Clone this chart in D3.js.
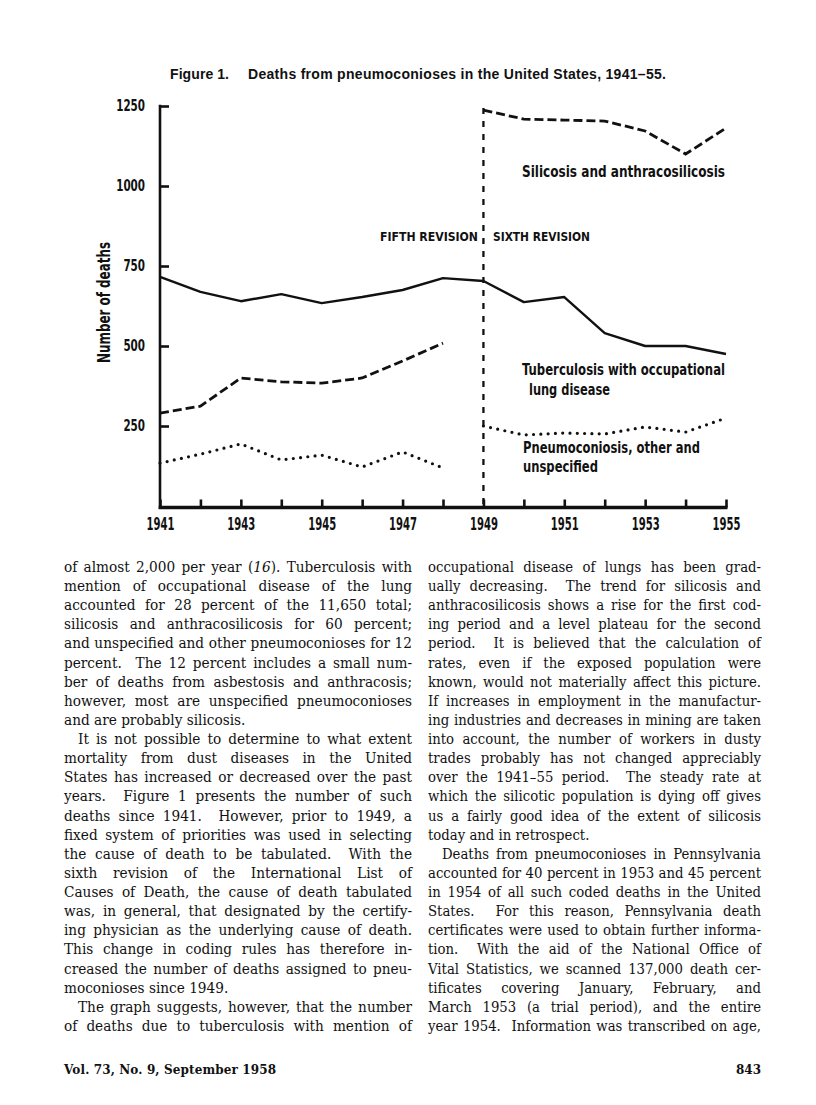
<!DOCTYPE html>
<html><head><meta charset="utf-8">
<script src="https://cdn.jsdelivr.net/npm/d3@7"></script>
<style>body{margin:0;background:#fff}svg{display:block}</style>
</head><body><svg id="c" width="816" height="1105"></svg>
<script>
// ---------- DATA ----------
const years = [1941,1942,1943,1944,1945,1946,1947,1948,1949,1950,1951,1952,1953,1954,1955];
const tuberculosis = [716,669,640,662,634,653,675,712,703,637,653,540,500,500,475];
const yearsFifth = [1941,1942,1943,1944,1945,1946,1947,1948];
const yearsSixth = [1949,1950,1951,1952,1953,1954,1955];
const silicosisFifth = [290,312,400,388,384,400,453,509];
const silicosisSixth = [1237,1209,1206,1203,1172,1100,1181];
const otherFifth = [134,162,194,144,159,122,169,119];
const otherSixth = [250,222,228,225,247,231,275];
const yTicks = [250,500,750,1000,1250];
const xLabelYears = [1941,1943,1945,1947,1949,1951,1953,1955];
const revisionYear = 1949;

const titleA = "Figure 1.";
const titleB = "Deaths from pneumoconioses in the United States, 1941\u201355.";
const yTitle = "Number of deaths";
const labelFifth = "FIFTH REVISION";
const labelSixth = "SIXTH REVISION";
const labelSil = ["Silicosis and anthracosilicosis"];
const labelTb = ["Tuberculosis with occupational","lung disease"];
const labelOther = ["Pneumoconiosis, other and","unspecified"];

// body text: [text, justified?, indent?]
const leftColumn = [
 ["of almost 2,000 per year ({16}). Tuberculosis with",1,0],
 ["mention of occupational disease of the lung",1,0],
 ["accounted for 28 percent of the 11,650 total;",1,0],
 ["silicosis and anthracosilicosis for 60 percent;",1,0],
 ["and unspecified and other pneumoconioses for 12",1,0],
 ["percent.  The 12 percent includes a small num-",1,0],
 ["ber of deaths from asbestosis and anthracosis;",1,0],
 ["however, most are unspecified pneumoconioses",1,0],
 ["and are probably silicosis.",0,0],
 ["It is not possible to determine to what extent",1,1],
 ["mortality from dust diseases in the United",1,0],
 ["States has increased or decreased over the past",1,0],
 ["years.  Figure 1 presents the number of such",1,0],
 ["deaths since 1941.  However, prior to 1949, a",1,0],
 ["fixed system of priorities was used in selecting",1,0],
 ["the cause of death to be tabulated.  With the",1,0],
 ["sixth revision of the International List of",1,0],
 ["Causes of Death, the cause of death tabulated",1,0],
 ["was, in general, that designated by the certify-",1,0],
 ["ing physician as the underlying cause of death.",1,0],
 ["This change in coding rules has therefore in-",1,0],
 ["creased the number of deaths assigned to pneu-",1,0],
 ["moconioses since 1949.",0,0],
 ["The graph suggests, however, that the number",1,1],
 ["of deaths due to tuberculosis with mention of",1,0]
];
const rightColumn = [
 ["occupational disease of lungs has been grad-",1,0],
 ["ually decreasing.  The trend for silicosis and",1,0],
 ["anthracosilicosis shows a rise for the first cod-",1,0],
 ["ing period and a level plateau for the second",1,0],
 ["period.  It is believed that the calculation of",1,0],
 ["rates, even if the exposed population were",1,0],
 ["known, would not materially affect this picture.",1,0],
 ["If increases in employment in the manufactur-",1,0],
 ["ing industries and decreases in mining are taken",1,0],
 ["into account, the number of workers in dusty",1,0],
 ["trades probably has not changed appreciably",1,0],
 ["over the 1941\u201355 period.  The steady rate at",1,0],
 ["which the silicotic population is dying off gives",1,0],
 ["us a fairly good idea of the extent of silicosis",1,0],
 ["today and in retrospect.",0,0],
 ["Deaths from pneumoconioses in Pennsylvania",1,1],
 ["accounted for 40 percent in 1953 and 45 percent",1,0],
 ["in 1954 of all such coded deaths in the United",1,0],
 ["States.  For this reason, Pennsylvania death",1,0],
 ["certificates were used to obtain further informa-",1,0],
 ["tion.  With the aid of the National Office of",1,0],
 ["Vital Statistics, we scanned 137,000 death cer-",1,0],
 ["tificates covering January, February, and",1,0],
 ["March 1953 (a trial period), and the entire",1,0],
 ["year 1954.  Information was transcribed on age,",1,0]
];
const footerLeft = "Vol. 73, No. 9, September 1958";
const footerRight = "843";

// ---------- DRAW ----------
const ink = "#111";
const cond = "'Liberation Sans Narrow','DejaVu Sans Condensed','Roboto Condensed','Arial Narrow',sans-serif";
const svg = d3.select("#c");
svg.append("rect").attr("width",816).attr("height",1105).attr("fill","#fff");

const x = d3.scaleLinear().domain([1941,1955]).range([160,726]);
const y = d3.scaleLinear().domain([0,1250]).range([506,106]);

function fit(sel, w){
  const n = sel.node().getComputedTextLength();
  sel.attr("textLength", w).attr("lengthAdjust", n > w ? "spacingAndGlyphs" : "spacing");
  return sel;
}
function label(txt, px, py, fs, w, anchor){
  const t = svg.append("text").attr("x",px).attr("y",py)
    .attr("font-family",cond).attr("font-weight","bold").attr("font-size",fs)
    .attr("fill",ink).attr("text-anchor",anchor||"start").text(txt);
  fit(t,w);
  return t;
}

// title
const tA = svg.append("text").attr("x",170).attr("y",79)
  .attr("font-family","'Liberation Sans',Arial,sans-serif").attr("font-weight","bold")
  .attr("font-size",14).attr("fill",ink).text(titleA);
fit(tA,59);
const tB = svg.append("text").attr("x",248).attr("y",79)
  .attr("font-family","'Liberation Sans',Arial,sans-serif").attr("font-weight","bold")
  .attr("font-size",14).attr("fill",ink).text(titleB);
fit(tB,418);

// axes
const gy = svg.append("g").attr("transform",`translate(${x(1941)},0)`)
  .call(d3.axisLeft(y).tickValues(yTicks).tickFormat(d3.format("d"))
    .tickSizeInner(-9).tickSizeOuter(0).tickPadding(15));
gy.select(".domain").remove();
gy.selectAll(".tick line").attr("stroke",ink).attr("stroke-width",2.6);
gy.selectAll(".tick text").attr("font-family",cond).attr("font-weight","bold")
  .attr("font-size",15).attr("fill",ink)
  .each(function(d){ fit(d3.select(this), String(d).length*7.2); });

const gx = svg.append("g").attr("transform",`translate(0,${y(0)+1.5})`)
  .call(d3.axisBottom(x).tickValues(years).tickSizeInner(-8).tickSizeOuter(0)
    .tickFormat(d => xLabelYears.includes(d) ? String(d) : ""));
gx.select(".domain").remove();
gx.selectAll(".tick line").attr("stroke",ink).attr("stroke-width",2.6);
gx.selectAll(".tick text").attr("font-family",cond).attr("font-weight","bold")
  .attr("font-size",17).attr("fill",ink).attr("dy",null).attr("y",22)
  .each(function(d){ if (xLabelYears.includes(d)) fit(d3.select(this), 28); });

// axis lines
svg.append("line").attr("x1",x(1941)).attr("x2",x(1941)).attr("y1",y(1250)-1.3).attr("y2",y(0)+3)
  .attr("stroke",ink).attr("stroke-width",2.6);
svg.append("line").attr("x1",x(1941)-1.3).attr("x2",x(1955)+1.5).attr("y1",y(0)+1.5).attr("y2",y(0)+1.5)
  .attr("stroke",ink).attr("stroke-width",3.4);

// y title
svg.append("text").attr("transform",`translate(110,302.5) rotate(-90)`)
  .attr("font-family",cond).attr("font-weight","bold").attr("font-size",17)
  .attr("fill",ink).attr("text-anchor","middle").text(yTitle)
  .call(s => fit(s,121));

// revision divider
svg.append("line").attr("x1",x(revisionYear)).attr("x2",x(revisionYear))
  .attr("y1",y(1250)+2).attr("y2",y(0))
  .attr("stroke",ink).attr("stroke-width",2.3).attr("stroke-dasharray","6,7");

// series
const line = d3.line().x(d=>x(d[0])).y(d=>y(d[1]));
const zip = (a,b) => a.map((v,i)=>[v,b[i]]);
svg.append("path").attr("d",line(zip(years,tuberculosis)))
  .attr("fill","none").attr("stroke",ink).attr("stroke-width",2.4).attr("stroke-linejoin","round");
[[yearsFifth,silicosisFifth],[yearsSixth,silicosisSixth]].forEach(([a,b])=>{
  svg.append("path").attr("d",line(zip(a,b)))
    .attr("fill","none").attr("stroke",ink).attr("stroke-width",2.8).attr("stroke-dasharray","9,4");
});
[[yearsFifth,otherFifth],[yearsSixth,otherSixth]].forEach(([a,b])=>{
  svg.append("path").attr("d",line(zip(a,b)))
    .attr("fill","none").attr("stroke",ink).attr("stroke-width",3.2)
    .attr("stroke-linecap","round").attr("stroke-dasharray","0,7.3");
});

// annotations
label(labelFifth, 478, 241, 12.5, 98, "end");
label(labelSixth, 493, 241, 12.5, 97);
label(labelSil[0], 522, 177, 16.5, 203);
label(labelTb[0], 522, 375, 16, 203);
label(labelTb[1], 529, 395, 16, 81);
label(labelOther[0], 523, 453, 16, 177);
label(labelOther[1], 523, 472, 16, 75);

// body text columns
const bodyFont = "'DejaVu Serif','Liberation Serif',serif";
function column(lines, x0, width){
  const g = svg.append("g");
  const texts = lines.map((ln,i)=>{
    const t = g.append("text").attr("y",572 + i*19.125)
      .attr("font-family",bodyFont).attr("font-size",14).attr("fill",ink)
      .style("white-space","pre");
    ln[0].split(/(\{[^}]*\})/).filter(s=>s.length).forEach(seg=>{
      if (seg[0]==="{") t.append("tspan").attr("font-style","italic").text(seg.slice(1,-1));
      else t.append("tspan").text(seg);
    });
    return t;
  });
  let maxR = 0;
  texts.forEach((t,i)=>{
    const w = width - (lines[i][2]?14:0);
    const r = t.node().getComputedTextLength()/w;
    if (lines[i][1] && r>maxR) maxR = r;
  });
  const sx = Math.min(1, 0.995/maxR);
  g.attr("transform",`translate(${x0},0) scale(${sx},1)`);
  texts.forEach((t,i)=>{
    const ind = lines[i][2]?14:0;
    t.attr("x", ind/sx);
    if (!lines[i][1]) return;
    const target = (width-ind)/sx;
    const nat = t.node().getComputedTextLength();
    const sp = (t.text().match(/ /g)||[]).length;
    if (sp>0) t.style("word-spacing", ((target-nat)/sp)+"px");
    const now = t.node().getComputedTextLength();
    if (Math.abs(now-target)>1) t.attr("textLength",target).attr("lengthAdjust","spacing");
  });
}
column(leftColumn, 64, 348);
column(rightColumn, 428, 333);

// footer
svg.append("text").attr("x",64).attr("y",1074).attr("font-family",bodyFont)
  .attr("font-weight","bold").attr("font-size",12).attr("fill",ink).text(footerLeft)
  .call(s=>fit(s,212));
svg.append("text").attr("x",761).attr("y",1074).attr("font-family",bodyFont)
  .attr("font-weight","bold").attr("font-size",12).attr("fill",ink)
  .attr("text-anchor","end").text(footerRight);
</script>
</body></html>
